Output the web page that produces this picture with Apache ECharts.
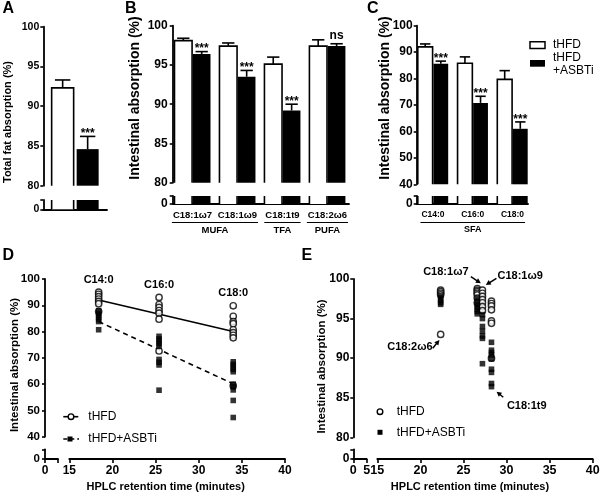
<!DOCTYPE html>
<html><head><meta charset="utf-8">
<script src="https://cdn.jsdelivr.net/npm/echarts@6/dist/echarts.min.js"></script>
<style>html,body{margin:0;padding:0;background:#fff}#c{width:600px;height:494px}</style>
</head><body><div id="c"></div>
<script>
// ================= DATA =================
const groups = ['tHFD', 'tHFD+ASBTi'];

// Panel A: total fat absorption
const A_mean = [92.3, 84.6];
const A_err = [1.0, 1.6];
const A_sig = ['***'];

// Panel B: unsaturated FA absorption
const B_cats = ['C18:1ω7', 'C18:1ω9', 'C18:1t9', 'C18:2ω6'];
const B_tHFD = [98.1, 97.4, 95.1, 97.4];
const B_tHFD_err = [0.3, 0.4, 0.9, 0.8];
const B_ASBTi = [96.4, 93.5, 89.2, 97.4];
const B_ASBTi_err = [0.3, 0.8, 0.8, 0.3];
const B_sig = ['***', '***', '***', 'ns'];
const B_classes = [['MUFA', 0, 1], ['TFA', 2, 2], ['PUFA', 3, 3]];

// Panel C: saturated FA absorption
const C_cats = ['C14:0', 'C16:0', 'C18:0'];
const C_tHFD = [92.0, 85.8, 79.7];
const C_tHFD_err = [1.1, 2.4, 3.3];
const C_ASBTi = [85.6, 70.8, 61.0];
const C_ASBTi_err = [1.0, 2.5, 2.6];
const C_sig = ['***', '***', '***'];
const C_classes = [['SFA', 0, 2]];

// Panel D: SFA vs HPLC retention time
const D_names = ['C14:0', 'C16:0', 'C18:0'];
const D_ret = [18.4, 25.4, 34.0];
const D_tHFD = [
  [95.0, 94.2, 93.3, 92.4, 91.5, 90.6, 87.6],
  [93.0, 90.3, 89.2, 88.0, 87.0, 84.7, 72.6],
  [89.8, 85.8, 83.8, 83.0, 80.7, 79.6, 78.6, 77.6, 59.4]
];
const D_ASBTi = [
  [88.0, 87.0, 86.2, 85.5, 84.6, 83.8, 80.7],
  [78.2, 77.2, 76.3, 75.4, 74.4, 69.4, 68.3, 67.3, 57.7],
  [68.5, 67.5, 66.6, 65.6, 64.7, 60.0, 59.0, 57.8, 53.8, 47.3]
];
const D_fit_tHFD = [[18.4, 92.0], [34.0, 80.0]];
const D_fit_ASBTi = [[18.4, 83.8], [34.0, 60.1]];

// Panel E: unsaturated FA vs HPLC retention time
const E_names = ['C18:2ω6', 'C18:1ω7', 'C18:1ω9', 'C18:1t9'];
const E_ret = [22.35, 26.6, 27.2, 28.25];
const E_tHFD = [
  [98.6, 98.4, 98.2, 98.0, 93.0],
  [98.8, 98.6, 98.4, 98.2, 98.0, 97.6, 97.0],
  [98.6, 98.2, 97.8, 97.4, 97.0, 96.5, 96.0],
  [97.2, 96.9, 96.6, 96.1, 94.7, 94.4, 90.0]
];
const E_ASBTi = [
  [97.9, 97.6, 97.3, 97.0, 96.8],
  [97.6, 97.2, 96.8, 96.5, 96.2, 95.9, 95.6],
  [95.5, 95.0, 94.0, 93.4, 92.8, 92.5, 89.3],
  [92.0, 91.0, 90.7, 90.4, 89.9, 88.6, 88.2, 86.8, 86.4]
];

// ================= STYLE / LAYOUT =================
const FONT = '"Liberation Sans", Arial, sans-serif';
const LW = 1.6;
const BLK = '#000';
const axLine = { show: true, onZero: false, lineStyle: { color: BLK, width: 1.8 } };
const axTick = { show: true, length: 3, lineStyle: { color: BLK, width: 1.6 } };

function txtStyle(text, size, weight, align, valign, extra) {
  return Object.assign({
    text: text, fill: BLK, font: (weight || 'bold') + ' ' + size + 'px ' + FONT,
    align: align || 'center', verticalAlign: valign || 'middle',
    textAlign: align || 'center', textVerticalAlign: valign || 'middle'
  }, extra || {});
}

function barRenderer(opts, sigArr) {
  return function (params, api) {
    const cat = api.value(0), val = api.value(1), err = api.value(2), g = api.value(3);
    const cs = params.coordSys;
    const c = api.coord([cat, 0])[0];
    const x0 = g === 0 ? c - opts.gap - opts.w : c + opts.gap;
    const x1 = x0 + opts.w;
    const yBase = cs.y + cs.height;
    let yTop = api.coord([cat, val])[1];
    const clipped = yTop < cs.y;
    if (clipped) yTop = cs.y;
    const ch = [];
    ch.push({ type: 'rect', shape: { x: x0, y: yTop, width: opts.w, height: yBase - yTop }, style: { fill: g ? BLK : '#fff' } });
    if (g === 0) {
      if (clipped) {
        ch.push({ type: 'line', shape: { x1: x0, y1: yBase, x2: x0, y2: yTop }, style: { stroke: BLK, lineWidth: LW } });
        ch.push({ type: 'line', shape: { x1: x1, y1: yBase, x2: x1, y2: yTop }, style: { stroke: BLK, lineWidth: LW } });
      } else {
        ch.push({ type: 'polyline', shape: { points: [[x0, yBase], [x0, yTop], [x1, yTop], [x1, yBase]] }, style: { stroke: BLK, fill: null, lineWidth: LW } });
      }
    }
    if (!opts.lower) {
      const xc = (x0 + x1) / 2;
      const yErr = api.coord([cat, val + err])[1];
      const cw = opts.w * opts.cap / 2;
      ch.push({ type: 'line', shape: { x1: xc, y1: yTop, x2: xc, y2: yErr }, style: { stroke: BLK, lineWidth: LW } });
      ch.push({ type: 'line', shape: { x1: xc - cw, y1: yErr, x2: xc + cw, y2: yErr }, style: { stroke: BLK, lineWidth: LW } });
      if (g === 1 && sigArr) {
        const s = sigArr[Math.round(cat)];
        if (s) ch.push({ type: 'text', x: xc, y: yErr - (s === 'ns' ? 8 : 2.5), style: txtStyle(s, 12, 'bold') });
      }
    }
    return { type: 'group', children: ch };
  };
}

function barData(t, te, a, ae) {
  const d = [];
  t.forEach((v, i) => d.push([i, v, te[i], 0]));
  a.forEach((v, i) => d.push([i, v, ae[i], 1]));
  return d;
}

function classRenderer(classes, cats, labFont, grpFont) {
  const ctx = document.createElement('canvas').getContext('2d');
  ctx.font = labFont;
  return function (params, api) {
    const cl = classes[params.dataIndex];
    const cs = params.coordSys;
    const yb = cs.y + cs.height;
    const xs = api.coord([cl[1], 0])[0] - ctx.measureText(cats[cl[1]]).width / 2 - 1;
    const xe = api.coord([cl[2], 0])[0] + ctx.measureText(cats[cl[2]]).width / 2 + 1;
    return { type: 'group', children: [
      { type: 'line', shape: { x1: xs, y1: yb + 18.5, x2: xe, y2: yb + 18.5 }, style: { stroke: BLK, lineWidth: 1.2 } },
      { type: 'text', x: (xs + xe) / 2, y: yb + 26, style: Object.assign(txtStyle(cl[0], 9.5, 'bold'), { font: grpFont }) }
    ] };
  };
}

function flat(xs, arrs) {
  const d = [];
  arrs.forEach((a, i) => a.forEach(v => d.push([xs[i], v])));
  return d;
}

function hiddenX(gi, min, max) { return { gridIndex: gi, type: 'value', min: min, max: max, show: false }; }
function hiddenY(gi) { return { gridIndex: gi, type: 'value', min: 0, max: 1, show: false }; }
function yUp(gi, min, max, interval, fs, margin) {
  return { gridIndex: gi, type: 'value', min: min, max: max, interval: interval,
    axisLine: axLine, axisTick: axTick, splitLine: { show: false },
    axisLabel: { color: BLK, fontWeight: 'bold', fontSize: fs, fontFamily: FONT, margin: margin } };
}
function yLow(gi, fs, margin) {
  return { gridIndex: gi, type: 'value', min: 0, max: 1, interval: 1,
    axisLine: axLine, axisTick: axTick, splitLine: { show: false },
    axisLabel: { color: BLK, fontWeight: 'bold', fontSize: fs, fontFamily: FONT, margin: margin, formatter: v => (v === 0 ? '0' : '') } };
}
function xLowCat(gi, min, max, cats, fs) {
  return { gridIndex: gi, type: 'value', min: min, max: max,
    axisLine: axLine, axisTick: { show: false }, splitLine: { show: false },
    axisLabel: { show: !!cats, color: BLK, fontWeight: 'bold', fontSize: fs, fontFamily: FONT, margin: 6,
      customValues: cats ? cats.map((c, i) => i) : [], formatter: v => (cats ? cats[Math.round(v)] : '') } };
}
function xNum(gi, min, max, interval, fs, fmt) {
  return { gridIndex: gi, type: 'value', min: min, max: max, interval: interval,
    axisLine: axLine, axisTick: { show: true, length: 4, lineStyle: { color: BLK, width: 1.6 } }, splitLine: { show: false },
    axisLabel: { color: BLK, fontWeight: 'bold', fontSize: fs, fontFamily: FONT, margin: 5.5, formatter: fmt } };
}

const grids = [
  { left: 43.3, top: 26.7, width: 63.7, height: 159 },    // 0 A up
  { left: 43.3, top: 200, width: 63.7, height: 9.3 },     // 1 A low
  { left: 172.7, top: 25.7, width: 176.3, height: 157 },  // 2 B up
  { left: 172.7, top: 196, width: 176.3, height: 8 },     // 3 B low
  { left: 416.7, top: 25.7, width: 111.3, height: 158.6 },// 4 C up
  { left: 416.7, top: 196, width: 111.3, height: 8 },     // 5 C low
  { left: 45, top: 279, width: 240, height: 157.7 },      // 6 D up
  { left: 45, top: 449.3, width: 13, height: 9.7 },       // 7 D low-left
  { left: 69.3, top: 449.3, width: 215.7, height: 9.7 },  // 8 D low-right
  { left: 353.3, top: 279, width: 239.4, height: 158.3 }, // 9 E up
  { left: 353.3, top: 449.3, width: 13.4, height: 9.7 },  // 10 E low-left
  { left: 377.3, top: 449.3, width: 215.4, height: 9.7 }  // 11 E low-right
].map(g => Object.assign({ containLabel: false, outerBoundsMode: 'none' }, g));

const xAxes = [
  hiddenX(0, -0.5, 0.5),
  xLowCat(1, -0.5, 0.5, null, 10),
  hiddenX(2, -0.44, 3.48),
  xLowCat(3, -0.44, 3.48, B_cats, 9.5),
  hiddenX(4, -0.41, 2.39),
  xLowCat(5, -0.41, 2.39, C_cats, 8.5),
  hiddenX(6, 12.18, 40),
  xNum(7, 0, 1, 1, 12, v => (v === 0 ? '0' : '')),
  xNum(8, 15, 40, 5, 12),
  hiddenX(9, 12.21, 40),
  xNum(10, 0, 5, 5, 12.5),
  xNum(11, 15, 40, 5, 12.5)
];
const yAxes = [
  yUp(0, 80, 100, 5, 10.5, 4),
  yLow(1, 10.5, 4),
  yUp(2, 80, 100, 5, 12, 5),
  yLow(3, 12, 5),
  yUp(4, 40, 100, 10, 12, 4),
  yLow(5, 12, 4),
  yUp(6, 40, 100, 10, 11.5, 5),
  yLow(7, 11.5, 5),
  hiddenY(8),
  yUp(9, 80, 100, 5, 12, 4),
  yLow(10, 12, 4),
  hiddenY(11)
];

const A_opts = { w: 22, gap: 1.5, cap: 0.7 };
const B_opts = { w: 17.6, gap: 0.4, cap: 0.7 };
const C_opts = { w: 14.8, gap: 0.4, cap: 0.7 };

const A_data = [[0, A_mean[0], A_err[0], 0], [0, A_mean[1], A_err[1], 1]];
const B_data = barData(B_tHFD, B_tHFD_err, B_ASBTi, B_ASBTi_err);
const C_data = barData(C_tHFD, C_tHFD_err, C_ASBTi, C_ASBTi_err);

function custom(xi, data, render, z) {
  return { type: 'custom', coordinateSystem: 'cartesian2d', xAxisIndex: xi, yAxisIndex: xi, data: data, renderItem: render, clip: false, silent: true, z: z || 2 };
}

// D column labels
function dLabelRender(params, api) {
  const p = api.coord([api.value(0), api.value(1)]);
  return { type: 'text', x: p[0], y: p[1] - 12.5, style: txtStyle(D_names[params.dataIndex], 11, 'bold') };
}
const D_labelData = D_ret.map((x, i) => [x, Math.max.apply(null, D_tHFD[i])]);

// E annotation arrows (pixel offsets relative to anchor point)
const E_annotLayout = [
  { head: [-1.2, 5.5], tail: [-7.9, 13.8], text: [-30.7, 12.8] },
  { head: [3.6, -5.2], tail: [-6.4, -11.8], text: [-31.4, -16.8] },
  { head: [3.4, -5.1], tail: [14, -11.8], text: [37.7, -14.1] },
  { head: [5.1, 5], tail: [11.8, 10.6], text: [35.3, 19] }
];
const E_anchor = [
  Math.min.apply(null, E_tHFD[0]),
  Math.max.apply(null, E_tHFD[1]),
  Math.max.apply(null, E_tHFD[2]),
  Math.min.apply(null, E_ASBTi[3])
];
function eAnnotRender(params, api) {
  const i = params.dataIndex, L = E_annotLayout[i];
  const p = api.coord([api.value(0), api.value(1)]);
  const hx = p[0] + L.head[0], hy = p[1] + L.head[1];
  const tx = p[0] + L.tail[0], ty = p[1] + L.tail[1];
  const dx = hx - tx, dy = hy - ty, len = Math.sqrt(dx * dx + dy * dy);
  const ux = dx / len, uy = dy / len, nx = -uy, ny = ux;
  const hl = 5, hw = 2.6;
  const bx = hx - ux * hl, by = hy - uy * hl;
  return { type: 'group', children: [
    { type: 'line', shape: { x1: tx, y1: ty, x2: bx + ux, y2: by + uy }, style: { stroke: BLK, lineWidth: 1.5 } },
    { type: 'polygon', shape: { points: [[hx, hy], [bx + nx * hw, by + ny * hw], [bx - nx * hw, by - ny * hw]] }, style: { fill: BLK } },
    { type: 'text', x: p[0] + L.text[0], y: p[1] + L.text[1], style: txtStyle(E_names[i], 11, 'bold') }
  ] };
}
const E_annotData = E_ret.map((x, i) => [x, E_anchor[i]]);

const circleStyle = { color: '#fff', borderColor: BLK, borderWidth: 1.4 };
const squareStyle = { color: BLK };

const series = [
  custom(0, A_data, barRenderer(A_opts, A_sig)),
  custom(1, A_data, barRenderer(Object.assign({ lower: true }, A_opts))),
  custom(2, B_data, barRenderer(B_opts, B_sig)),
  custom(3, B_data, barRenderer(Object.assign({ lower: true }, B_opts))),
  custom(3, B_classes.map(c => [c[1], c[2]]), classRenderer(B_classes, B_cats, 'bold 9.5px ' + FONT, 'bold 9.5px ' + FONT)),
  custom(4, C_data, barRenderer(C_opts, C_sig)),
  custom(5, C_data, barRenderer(Object.assign({ lower: true }, C_opts))),
  custom(5, C_classes.map(c => [c[1], c[2]]), classRenderer(C_classes, C_cats, 'bold 8.5px ' + FONT, 'bold 9px ' + FONT)),
  { type: 'line', xAxisIndex: 6, yAxisIndex: 6, data: D_fit_tHFD, symbol: 'none', lineStyle: { color: BLK, width: 1.6 }, z: 1, silent: true },
  { type: 'line', xAxisIndex: 6, yAxisIndex: 6, data: D_fit_ASBTi, symbol: 'none', lineStyle: { color: BLK, width: 1.6, type: [5, 4] }, z: 1, silent: true },
  { type: 'scatter', name: groups[0], xAxisIndex: 6, yAxisIndex: 6, data: flat(D_ret, D_tHFD), symbol: 'circle', symbolSize: 6.3, itemStyle: circleStyle, z: 3, silent: true },
  { type: 'scatter', name: groups[1], xAxisIndex: 6, yAxisIndex: 6, data: flat(D_ret, D_ASBTi), symbol: 'rect', symbolSize: 5.6, itemStyle: squareStyle, z: 4, silent: true },
  custom(6, D_labelData, dLabelRender, 5),
  { type: 'scatter', name: groups[0], xAxisIndex: 9, yAxisIndex: 9, data: flat(E_ret, E_tHFD), symbol: 'circle', symbolSize: 6.3, itemStyle: circleStyle, z: 3, silent: true },
  { type: 'scatter', name: groups[1], xAxisIndex: 9, yAxisIndex: 9, data: flat(E_ret, E_ASBTi), symbol: 'rect', symbolSize: 5.6, itemStyle: squareStyle, z: 4, silent: true },
  custom(9, E_annotData, eAnnotRender, 5)
];

function gtext(x, y, text, size, weight, align, rot) {
  return { type: 'text', x: x, y: y, rotation: rot || 0, silent: true, style: txtStyle(text, size, weight, align || 'center', 'middle') };
}
const yName = 'Intestinal absorption (%)';
const xName = 'HPLC retention time (minutes)';
const R = Math.PI / 2;
const graphic = [
  gtext(2.5, 8.7, 'A', 16, 'bold', 'left'),
  gtext(125, 8.7, 'B', 16, 'bold', 'left'),
  gtext(367, 8.7, 'C', 16, 'bold', 'left'),
  gtext(2.5, 255.3, 'D', 16, 'bold', 'left'),
  gtext(301.5, 255.3, 'E', 16, 'bold', 'left'),
  gtext(7.5, 122, 'Total fat absorption (%)', 11, 'bold', 'center', R),
  gtext(135, 98, yName, 14, 'bold', 'center', R),
  gtext(385, 98, yName, 14, 'bold', 'center', R),
  gtext(15, 365, yName, 11.5, 'bold', 'center', R),
  gtext(321.7, 366.5, yName, 11.5, 'bold', 'center', R),
  gtext(165.7, 486.7, xName, 11, 'bold'),
  gtext(470, 486.7, xName, 11, 'bold'),
  // legend C
  { type: 'rect', shape: { x: 530, y: 41.7, width: 15, height: 6.7 }, style: { fill: '#fff', stroke: BLK, lineWidth: 1.5 }, silent: true },
  gtext(553, 45, groups[0], 12, 'normal', 'left'),
  { type: 'rect', shape: { x: 530, y: 60, width: 15, height: 6.7 }, style: { fill: BLK }, silent: true },
  gtext(553, 58, 'tHFD', 12, 'normal', 'left'),
  gtext(553, 70.7, '+ASBTi', 12, 'normal', 'left'),
  // legend D
  { type: 'line', shape: { x1: 63.3, y1: 416.7, x2: 78.3, y2: 416.7 }, style: { stroke: BLK, lineWidth: 1.6 }, silent: true },
  { type: 'circle', shape: { cx: 71, cy: 416.7, r: 2.8 }, style: { fill: '#fff', stroke: BLK, lineWidth: 1.4 }, silent: true },
  gtext(88.3, 416.7, groups[0], 12, 'normal', 'left'),
  { type: 'line', shape: { x1: 63.3, y1: 439, x2: 79, y2: 439 }, style: { stroke: BLK, lineWidth: 1.6, lineDash: [4, 3] }, silent: true },
  { type: 'rect', shape: { x: 67.5, y: 436.5, width: 5, height: 5 }, style: { fill: BLK }, silent: true },
  gtext(88.3, 439, groups[1], 12, 'normal', 'left'),
  // legend E
  { type: 'circle', shape: { cx: 380, cy: 411.7, r: 2.8 }, style: { fill: '#fff', stroke: BLK, lineWidth: 1.4 }, silent: true },
  gtext(396.7, 411.7, groups[0], 12, 'normal', 'left'),
  { type: 'rect', shape: { x: 377.5, y: 429.8, width: 5, height: 5 }, style: { fill: BLK }, silent: true },
  gtext(396.7, 432.3, groups[1], 12, 'normal', 'left')
];

const chart = echarts.init(document.getElementById('c'), null, { renderer: 'canvas' });
chart.setOption({
  animation: false,
  backgroundColor: '#fff',
  textStyle: { fontFamily: FONT },
  grid: grids,
  xAxis: xAxes,
  yAxis: yAxes,
  series: series,
  graphic: graphic
});
</script></body></html>
